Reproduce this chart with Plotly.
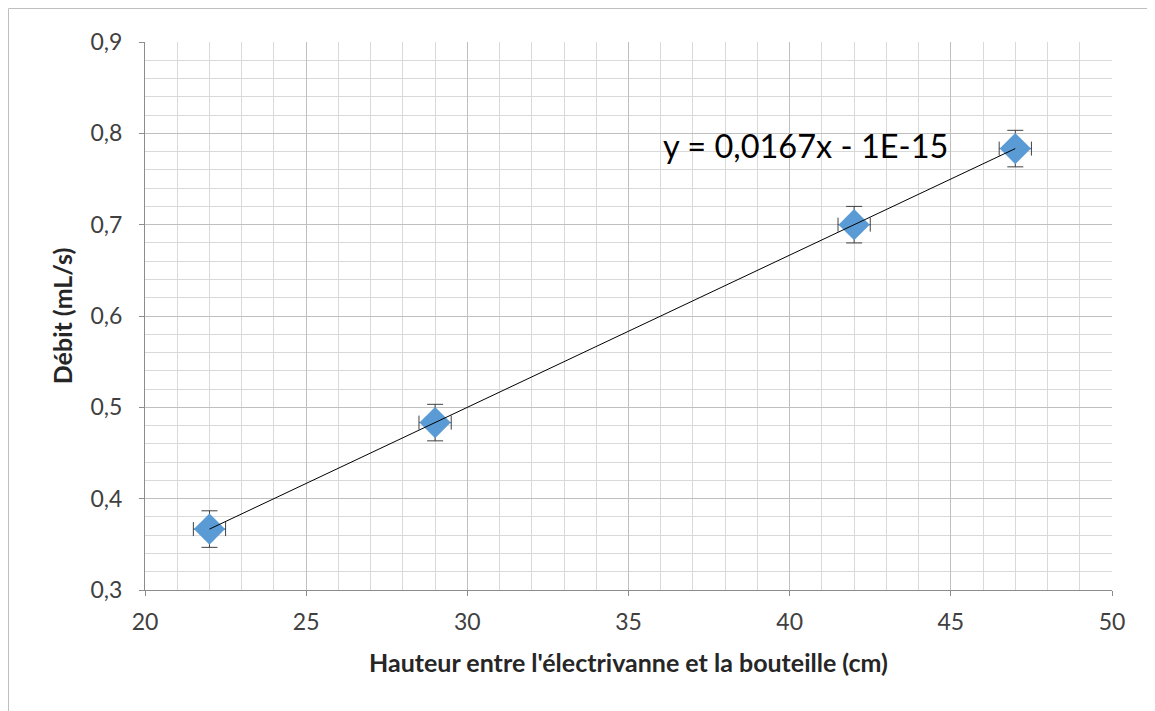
import numpy as np
import plotly.graph_objects as go

hauteur = [22, 29, 42, 47]
debit = [0.3667, 0.4833, 0.7, 0.7833]
err_x = [0.5, 0.5, 0.5, 0.5]
err_y = [0.02, 0.02, 0.02, 0.02]

x_ticks = [20, 25, 30, 35, 40, 45, 50]
y_ticks = [0.3, 0.4, 0.5, 0.6, 0.7, 0.8, 0.9]

slope, intercept = np.polyfit(hauteur, debit, 1)
xt = np.array([min(hauteur), max(hauteur)])
yt = slope * xt + intercept

font = "Lato, Open Sans, sans-serif"

fig = go.Figure()
fig.add_trace(go.Scatter(
    x=hauteur, y=debit, mode="markers",
    marker=dict(symbol="diamond", size=24, color="#5b9bd5",
                line=dict(color="#5b9bd5", width=0)),
    error_x=dict(type="data", array=err_x, color="#404040", thickness=1, width=7),
    error_y=dict(type="data", array=err_y, color="#404040", thickness=1, width=8),
    showlegend=False))
fig.add_trace(go.Scatter(
    x=xt, y=yt, mode="lines", line=dict(color="#000000", width=1),
    showlegend=False, hoverinfo="skip"))

fig.add_annotation(
    x=36.0, y=0.787, xref="x", yref="y", xanchor="left", yanchor="middle",
    text="y = 0,0167x - 1E-15", showarrow=False,
    font=dict(family=font, size=32.5, color="#000000"))

axis_common = dict(
    showline=True, linecolor="#8c8c8c", linewidth=1,
    gridcolor="#bfbfbf", gridwidth=1,
    ticks="outside", ticklen=5, tickcolor="#8c8c8c",
    tickfont=dict(family=font, size=23, color="#404040"),
    zeroline=False, mirror=False,
)

fig.update_xaxes(
    range=[20, 50], tickvals=x_ticks, ticklabelstandoff=6, **axis_common,
    minor=dict(dtick=1, showgrid=True, gridcolor="#d9d9d9", gridwidth=1, ticks=""),
    title=dict(text="<b>Hauteur entre l'électrivanne et la bouteille (cm)</b>",
               font=dict(family=font, size=25, color="#262626"), standoff=20))
fig.update_yaxes(
    range=[0.3, 0.9], tickvals=y_ticks, tickformat=".1f", ticklabelstandoff=12,
    **axis_common,
    minor=dict(dtick=0.02, showgrid=True, gridcolor="#d9d9d9", gridwidth=1, ticks=""),
    title=dict(text="<b>Débit (mL/s)</b>",
               font=dict(family=font, size=25, color="#262626"), standoff=10))

L, R, T, B = 137, 51, 34, 129
PW = 1155 - L - R
PH = 711 - T - B
fig.add_shape(type="rect", xref="paper", yref="paper",
              x0=-(L - 0.5) / PW, y0=-(B + 20) / PH,
              x1=1 + (R + 20) / PW, y1=1 + (T - 0.5) / PH,
              line=dict(color="#bfbfbf", width=1), layer="below")

fig.update_layout(
    width=1155, height=711,
    margin=dict(l=L, r=R, t=T, b=B, autoexpand=False),
    paper_bgcolor="white", plot_bgcolor="white",
    separators=", ",
    font=dict(family=font),
)

fig.write_html("out.html")
